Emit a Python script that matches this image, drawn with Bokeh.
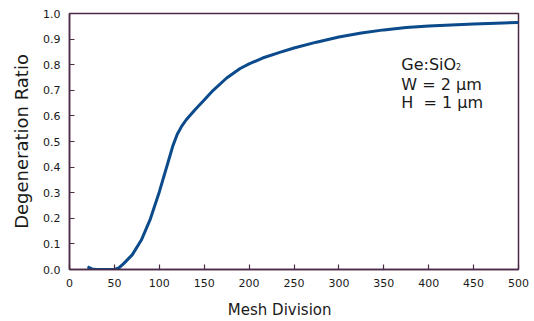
from bokeh.plotting import figure
from bokeh.models import Range1d, FixedTicker, PrintfTickFormatter, Label
from bokeh.embed import file_html
from bokeh.resources import INLINE

# Degeneration ratio versus mesh division
mesh_division = [20, 25, 30, 40, 50, 55, 60, 70, 80, 90, 100, 110, 115, 120, 125, 130,
                 140, 150, 160, 175, 190, 200, 215, 235, 250, 275, 300, 325, 350,
                 375, 400, 425, 450, 475, 500]
degeneration_ratio = [0.010, 0.002, 0.0, 0.0, 0.0, 0.006, 0.022, 0.058, 0.115, 0.197,
                      0.303, 0.422, 0.482, 0.528, 0.560, 0.585, 0.625, 0.662, 0.700,
                      0.748, 0.785, 0.803, 0.826, 0.849, 0.865, 0.888, 0.908, 0.924,
                      0.936, 0.945, 0.951, 0.955, 0.959, 0.962, 0.965]

x_ticks = [0, 50, 100, 150, 200, 250, 300, 350, 400, 450, 500]
y_ticks = [0.0, 0.1, 0.2, 0.3, 0.4, 0.5, 0.6, 0.7, 0.8, 0.9, 1.0]

FONT = "DejaVu Sans"
AXIS_COLOR = "#4b2b45"
LINE_COLOR = "#0b4a8b"
TEXT_COLOR = "#1a1a1a"
NBSP = "\u00a0"

p = figure(width=534, height=321, output_backend="svg", toolbar_location=None,
           x_range=Range1d(0, 500), y_range=Range1d(0, 1),
           min_border_left=69, min_border_right=16, min_border_top=13,
           min_border_bottom=52)

p.line(mesh_division, degeneration_ratio, line_color=LINE_COLOR, line_width=3)

p.xgrid.visible = False
p.ygrid.visible = False
p.outline_line_color = AXIS_COLOR
p.outline_line_width = 1.5
p.background_fill_color = "white"
p.border_fill_color = "white"

for ax in (p.xaxis[0], p.yaxis[0]):
    ax.axis_line_color = AXIS_COLOR
    ax.axis_line_width = 1.5
    ax.major_tick_line_color = AXIS_COLOR
    ax.major_tick_line_width = 1.2
    ax.major_tick_in = 5
    ax.major_tick_out = 0
    ax.minor_tick_line_color = None
    ax.major_label_text_font = FONT
    ax.major_label_text_font_size = "11px"
    ax.major_label_text_color = TEXT_COLOR
    ax.major_label_standoff = 9
    ax.axis_label_text_font = FONT
    ax.axis_label_text_font_style = "normal"
    ax.axis_label_text_color = TEXT_COLOR

p.xaxis.ticker = FixedTicker(ticks=x_ticks)
p.yaxis.ticker = FixedTicker(ticks=y_ticks)
p.yaxis.formatter = PrintfTickFormatter(format="%.1f")

p.yaxis.axis_label = "Degeneration Ratio"
p.yaxis.axis_label_text_font_size = "18px"
p.yaxis.axis_label_standoff = 8

# trailing padding nudges the title left of the frame centre
p.xaxis.axis_label = "Mesh Division" + NBSP * 6
p.xaxis.axis_label_text_font_size = "15px"
p.xaxis.axis_label_standoff = 11

# Sample description
ann = dict(text_font=FONT, text_font_size="16px", text_color=TEXT_COLOR,
           text_align="left", text_baseline="alphabetic")
p.add_layout(Label(x=369.5, y=0.801, text="Ge:SiO", **ann))
p.add_layout(Label(x=430.5, y=0.793, text="2", text_font=FONT, text_font_size="8px",
                   text_color=TEXT_COLOR, text_align="left",
                   text_baseline="alphabetic"))
p.add_layout(Label(x=369.5, y=0.7227, text="W = 2 \u03bcm", **ann))
p.add_layout(Label(x=369.5, y=0.651, text="H" + NBSP + " = 1 \u03bcm", **ann))

open("out.html", "w").write(file_html(p, INLINE))
